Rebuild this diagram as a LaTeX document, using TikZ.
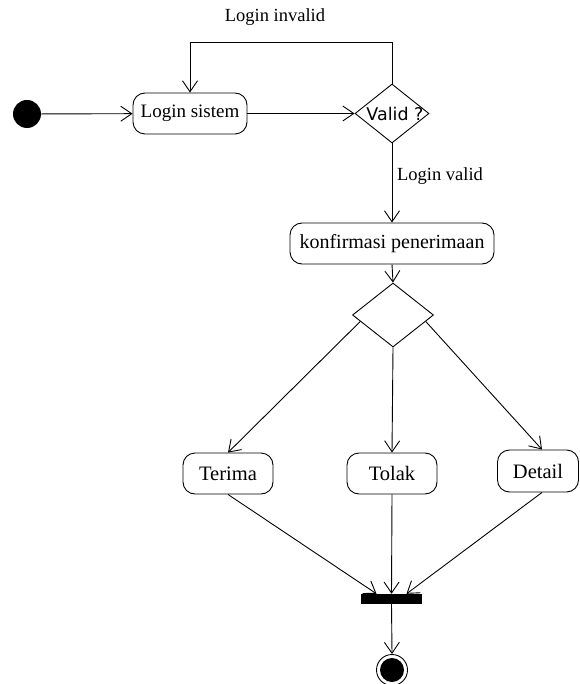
\documentclass[tikz,border=0pt]{standalone}
\usepackage{fontspec}
\setmainfont{Liberation Serif}
\newfontfamily\validfont{DejaVu Sans}
\usetikzlibrary{shapes.geometric,arrows.meta,calc}
\tikzset{
  arr/.style={draw, line width=0.9pt, -{Straight Barb[length=11pt,width=15pt,line width=0.9pt]}},
  act/.style={draw, line width=0.9pt, rounded corners=12pt, inner sep=0pt, font=\fontsize{19}{22}\selectfont},
  bigact/.style={act, font=\fontsize{20.5}{24}\selectfont},
  dec/.style={draw, line width=0.9pt, diamond, inner sep=0pt},
  lbl/.style={inner sep=0pt, font=\fontsize{18.5}{21}\selectfont},
}
\begin{document}
\begin{tikzpicture}[x=1pt,y=-1pt]
\useasboundingbox (0,0) rectangle (579,684);
\node[circle, fill=black, minimum size=28pt, inner sep=0pt] (start) at (27,114) {};
\node[act, minimum width=114pt, minimum height=41pt] (login) at (190,113.5) {Login sistem};
\node[dec, minimum width=74pt, minimum height=59pt,
  label={[inner sep=0pt, font=\validfont\fontsize{17.5}{20}\selectfont, xshift=3pt]center:Valid ?}] (valid) at (392,113.5) {};
\node[act, font=\fontsize{20}{23}\selectfont, minimum width=204pt, minimum height=41pt] (konf) at (392,243.5) {konfirmasi penerimaan};
\node[dec, minimum width=81pt, minimum height=64pt] (d2) at (393,315) {};
\node[bigact, minimum width=90pt, minimum height=41pt] (terima) at (228,473.5) {Terima};
\node[bigact, minimum width=90pt, minimum height=41pt] (tolak) at (392,473.5) {Tolak};
\node[bigact, minimum width=81pt, minimum height=42pt] (detail) at (538,471) {Detail};
\node[fill=black, minimum width=61pt, minimum height=10pt, inner sep=0pt] (bar) at (391.5,599) {};
\node[circle, draw, line width=0.9pt, minimum size=31pt, inner sep=0pt,
  path picture={\fill (path picture bounding box.center) circle (12pt);}] (end) at (392,670) {};
\node[lbl] (linv) at (275,17) {Login invalid};
\node[lbl] (lval) at (440,176) {Login valid};
\draw[arr] (start) -- (login);
\draw[arr] (login) -- (valid);
\draw[arr] (valid.north) -- (valid.north |- 0,42) -- (login.north |- 0,42) -- (login.north);
\draw[arr] (valid.south) -- (konf.north);
\draw[arr] (konf.south) -- (d2.north);
\draw[arr] ($(d2.west)!0.2!(d2.south)$) -- (terima.north);
\draw[arr] (d2.south) -- (tolak.north);
\draw[arr] ($(d2.east)!0.2!(d2.south)$) -- ([xshift=4pt]detail.north);
\draw[arr] (terima.south) -- ([xshift=-15pt]bar.north);
\draw[arr] (tolak.south) -- (bar.north);
\draw[arr] ([xshift=4pt]detail.south) -- ([xshift=15pt]bar.north);
\draw[arr] (bar.south) -- (end.north);
\end{tikzpicture}
\end{document}
